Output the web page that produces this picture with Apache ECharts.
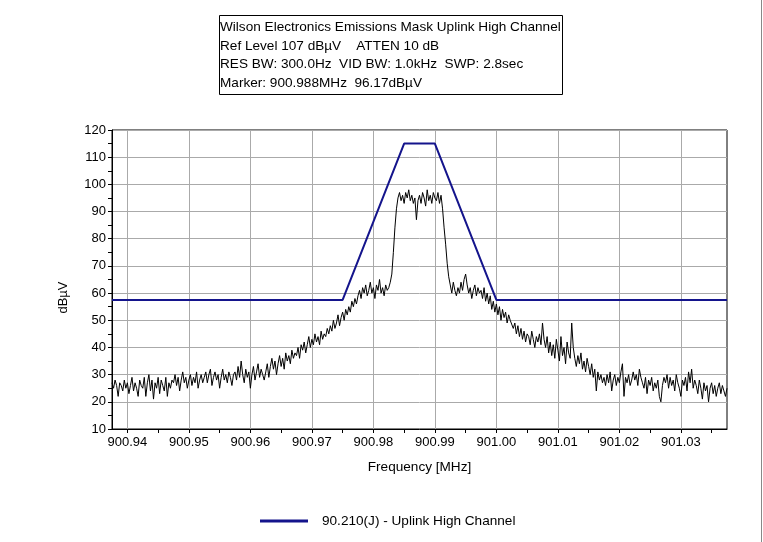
<!DOCTYPE html>
<html>
<head>
<meta charset="utf-8">
<script src="https://cdn.jsdelivr.net/npm/echarts@6/dist/echarts.min.js"></script>
<style>
html, body { margin: 0; padding: 0; background: #fff; }
#chart { width: 763px; height: 542px; }
</style>
</head>
<body>
<div id="chart"></div>
<script>
// analyzer sweep: first point and step (MHz)
const sweepStart = 900.9375;
const sweepStep = 0.00025;
const sweepEnd = 901.0375;

const traceLevels = [
  27, 25, 28, 26, 22, 27, 26, 24, 28, 25, 27, 23, 26, 29, 24, 27, 25, 22, 28, 26,
  25, 29, 22, 27, 30, 24, 28, 21, 27, 25, 29, 23, 28, 26, 24, 29, 22, 27, 25, 28,
  27, 30, 26, 29, 24, 28, 31, 27, 29, 25, 28, 30, 26, 29, 27, 31, 25, 28, 30, 27,
  29, 31, 27, 30, 32, 26, 29, 31, 28, 30, 25, 29, 32, 28, 30, 27, 31, 29, 26, 30,
  31, 28, 33, 29, 35, 30, 27, 32, 29, 31, 25, 30, 33, 28, 31, 34, 29, 32, 30, 28,
  31, 34, 29, 33, 36, 32, 35, 30, 34, 37, 33, 36, 32, 38, 35, 37, 34, 39, 36, 38,
  37, 40, 36, 41, 39, 42, 38, 41, 44, 40, 43, 41, 45, 42, 44, 41, 46, 43, 45, 44,
  47, 45, 48, 46, 50, 47, 49, 52, 48, 51, 53, 50, 54, 52, 55, 53, 57, 55, 58, 56,
  59, 61, 58, 62, 60, 63, 59, 61, 64, 60, 62, 58, 63, 61, 65, 60, 62, 59, 63, 61,
  62, 64, 67, 75, 84, 91, 95, 97, 94, 96, 93, 97, 95, 98, 94, 96, 93, 95, 87, 94,
  96, 93, 97, 95, 92, 98, 94, 96, 93, 97, 95, 94, 97, 93, 96, 91, 84, 78, 71, 66,
  63, 60, 64, 61, 59, 62, 60, 64, 61, 65, 67, 63, 60, 62, 58, 61, 63, 59, 62, 60,
  61, 58, 62, 57, 60, 56, 59, 54, 57, 53, 56, 52, 55, 50, 54, 51, 53, 49, 52, 50,
  50, 47, 49, 45, 48, 44, 47, 43, 46, 42, 45, 44, 41, 46, 43, 40, 44, 42, 45, 41,
  49, 43, 40, 44, 38, 42, 37, 41, 36, 43, 39, 35, 44, 37, 40, 34, 42, 38, 36, 49,
  40, 36, 33, 37, 34, 38, 32, 35, 31, 36, 33, 30, 34, 29, 32, 24, 31, 28, 30, 27,
  29, 26, 30, 27, 31, 24, 28, 30, 26, 29, 27, 31, 34, 22, 29, 27, 30, 26, 28, 31,
  28, 30, 26, 32, 29, 27, 25, 29, 23, 28, 26, 29, 24, 27, 25, 28, 22, 20, 26, 29,
  27, 30, 25, 29, 26, 28, 24, 30, 27, 25, 22, 28, 26, 29, 24, 31, 27, 32, 25, 28,
  26, 23, 28, 25, 21, 27, 24, 26, 20, 25, 27, 23, 26, 22, 25, 27, 23, 26, 24, 22,
  25
];

// emissions mask corners
const maskFreqs = [900.9375, 900.975, 900.985, 900.99, 901.0, 901.0375];
const maskLevels = [57.5, 57.5, 115, 115, 57.5, 57.5];
const maskName = '90.210(J) - Uplink High Channel';

// axis ticks
const freqTicks = [900.94, 900.95, 900.96, 900.97, 900.98, 900.99, 901.00, 901.01, 901.02, 901.03];
const freqHalfTicks = [900.945, 900.955, 900.965, 900.975, 900.985, 900.995, 901.005, 901.015, 901.025, 901.035];
const levelMin = 10;
const levelMax = 120;
const levelStep = 10;

const infoLines = [
  'Wilson Electronics Emissions Mask Uplink High Channel',
  'Ref Level 107 dBµV    ATTEN 10 dB',
  'RES BW: 300.0Hz  VID BW: 1.0kHz  SWP: 2.8sec',
  'Marker: 900.988MHz  96.17dBµV'
];

const font = '"Liberation Sans", Arial, sans-serif';

const chart = echarts.init(document.getElementById('chart'));
chart.setOption({
  animation: false,
  backgroundColor: '#fff',
  textStyle: { fontFamily: font },
  title: {
    text: infoLines.join('\n'),
    left: 219,
    top: 15,
    padding: [3, 2, 3, 1],
    borderColor: '#000',
    borderWidth: 1,
    textStyle: { fontFamily: font, fontSize: 13.6, fontWeight: 'normal', color: '#000', lineHeight: 18.5 }
  },
  legend: {
    left: 260,
    top: 514,
    padding: 0,
    itemWidth: 48,
    itemHeight: 3,
    data: [{ name: maskName, icon: 'rect' }],
    textStyle: { fontFamily: font, fontSize: 13.6, color: '#000', padding: [0, 0, 0, 9] }
  },
  grid: {
    left: 112,
    top: 130,
    right: 36,
    bottom: 113,
    show: true,
    borderColor: '#000',
    borderWidth: 1
  },
  xAxis: [
    {
      type: 'value',
      min: sweepStart,
      max: sweepEnd,
      name: 'Frequency [MHz]',
      nameLocation: 'middle',
      nameGap: 31,
      nameTextStyle: { fontFamily: font, fontSize: 13.6, color: '#000' },
      axisLine: { lineStyle: { color: '#000' } },
      axisTick: { customValues: freqTicks, length: 4, lineStyle: { color: '#000' } },
      axisLabel: {
        customValues: freqTicks,
        margin: 7,
        fontSize: 13,
        color: '#000',
        formatter: v => v.toFixed(2)
      },
      splitLine: { show: true, lineStyle: { color: '#aaa' } }
    },
    {
      type: 'value',
      position: 'bottom',
      min: sweepStart,
      max: sweepEnd,
      axisLine: { show: false },
      axisTick: { customValues: freqHalfTicks, length: 4, lineStyle: { color: '#000' } },
      axisLabel: { show: false },
      splitLine: { show: false }
    }
  ],
  yAxis: {
    type: 'value',
    min: levelMin,
    max: levelMax,
    interval: levelStep,
    name: 'dBµV',
    nameLocation: 'middle',
    nameGap: 42,
    nameTextStyle: { fontFamily: font, fontSize: 13, color: '#000', padding: [0, 36, 0, 0] },
    axisLine: { show: true, lineStyle: { color: '#000' } },
    axisTick: { show: true, length: 4, lineStyle: { color: '#000' } },
    minorTick: { show: true, splitNumber: 2, length: 4, lineStyle: { color: '#000' } },
    axisLabel: { margin: 6, fontSize: 13, color: '#000' },
    splitLine: { show: true, lineStyle: { color: '#aaa' } }
  },
  series: [
    {
      name: 'trace',
      type: 'line',
      symbol: 'none',
      lineStyle: { color: '#000', width: 1 },
      data: traceLevels.map((v, i) => [sweepStart + i * sweepStep, v]),
      z: 3
    },
    {
      name: maskName,
      type: 'line',
      symbol: 'none',
      color: '#14148c',
      lineStyle: { color: '#14148c', width: 2 },
      data: maskFreqs.map((f, i) => [f, maskLevels[i]]),
      z: 4
    }
  ],
  graphic: [
    {
      type: 'line',
      shape: { x1: 761.5, y1: 0, x2: 761.5, y2: 542 },
      style: { stroke: '#888', lineWidth: 1 }
    }
  ]
});
</script>
</body>
</html>
